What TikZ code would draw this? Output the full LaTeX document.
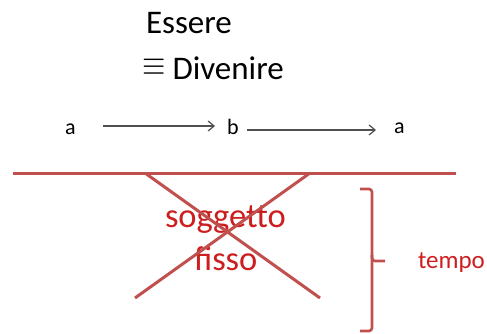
\documentclass[tikz,border=0pt]{standalone}
\usepackage{fontspec}
\setmainfont{Carlito}
\usetikzlibrary{arrows.meta}
\definecolor{redline}{RGB}{192,80,77}
\definecolor{redtext}{RGB}{204,30,30}
\definecolor{arrowgray}{RGB}{80,80,80}
\begin{document}
\begin{tikzpicture}[x=1pt,y=-1pt,
  txt/.style={inner sep=0pt,outer sep=0pt,anchor=base west},
  big/.style={txt,font=\fontsize{33}{33}\selectfont},
  mid/.style={txt,font=\fontsize{22}{22}\selectfont},
  redbig/.style={txt,font=\fontsize{34.5}{34.5}\selectfont,text=redtext},
  redmid/.style={txt,font=\fontsize{25}{25}\selectfont,text=redtext},
  flow/.style={draw=arrowgray,line width=1.2pt,-{Straight Barb[length=6pt,width=10pt,line width=1.2pt]}},
  redstroke/.style={draw=redline,line width=3pt},
  bracestroke/.style={draw=redline,line width=2.6pt,rounded corners=3pt}]
\useasboundingbox (0,0) rectangle (487,334);
% title
\node[big] (essere) at (146,34) {Essere};
\node[inner sep=0pt,font=\fontsize{20}{20}\selectfont,xscale=1.45,yscale=1.7] (eq) at (154.5,67.5) {$\equiv$};
\node[big] (divenire) at (172.5,80) {Divenire};
% a -> b -> a
\node[mid] (a1) at (65,135) {a};
\node[mid] (b) at (227,135) {b};
\node[mid] (a2) at (394,133) {a};
\coordinate (s1) at (103,126);
\coordinate (e1) at (215,126);
\coordinate (s2) at (247,130);
\coordinate (e2) at (376,130);
\draw[flow] (s1) -- (e1);
\draw[flow] (s2) -- (e2);
% time line and X
\coordinate (hl) at (13,173);
\coordinate (hr) at (456,173);
\coordinate (x1a) at (145,173);
\coordinate (x1b) at (320,298);
\coordinate (x2a) at (310,173);
\coordinate (x2b) at (135,298);
\node[redbig] (sogg) at (165,227) {soggetto};
\node[redbig] (fisso) at (194,270) {fisso};
\draw[redstroke] (hl) -- (hr);
\draw[redstroke] (x1a) -- (x1b);
\draw[redstroke] (x2a) -- (x2b);
% brace
\coordinate (bt) at (360,189);
\coordinate (bb) at (360,331);
\coordinate (bm) at (385,261);
\draw[bracestroke] (bt) -- (372,189) -- (372,261) -- (bm);
\draw[bracestroke] (372,255) -- (372,331) -- (bb);
\node[redmid] (tempo) at (418,268) {tempo};
\end{tikzpicture}
\end{document}
